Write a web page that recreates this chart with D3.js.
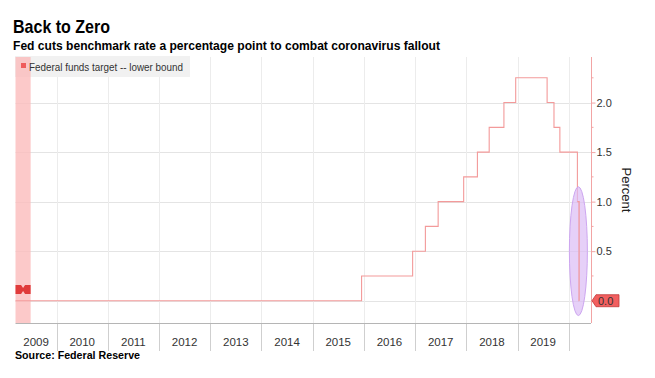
<!DOCTYPE html>
<html><head><meta charset="utf-8">
<script src="https://cdn.jsdelivr.net/npm/d3@7"></script>
<style>body{margin:0;background:#fff}svg{display:block}</style>
</head><body>
<svg id="c" width="655" height="378"></svg>
<script>
// Fed funds target lower bound: step dates and values
const stepDates = ["2009-03-14","2015-12-16","2016-12-14","2017-03-15","2017-06-14","2017-12-13","2018-03-21","2018-06-13","2018-09-26","2018-12-19","2019-07-31","2019-09-18","2019-10-30","2020-03-03","2020-03-15","2020-03-16"];
const stepValues = [0, 0.25, 0.5, 0.75, 1.0, 1.25, 1.5, 1.75, 2.0, 2.25, 2.0, 1.75, 1.5, 1.0, 0.0, 0.0];
const yearLabels = ["2009","2010","2011","2012","2013","2014","2015","2016","2017","2018","2019"];
const yTicks = [0, 0.5, 1.0, 1.5, 2.0];
const recession = ["2009-03-14","2009-06-30"];
const lastValue = 0.0;

const parse = d3.timeParse("%Y-%m-%d");
const svg = d3.select("#c");
const font = "'Liberation Sans', Arial, sans-serif";

const L = 15.5, R = 591, T = 57, B = 323;
const x = d3.scaleTime().domain([parse("2009-03-14"), parse("2020-06-08")]).range([L, R]);
const y = d3.scaleLinear().domain([-0.225, 2.46]).range([B, T]);

// title
svg.append("text").attr("x",13).attr("y",33).text("Back to Zero")
  .attr("font-family",font).attr("font-weight","bold").attr("font-size",19)
  .attr("textLength",97).attr("lengthAdjust","spacingAndGlyphs").attr("fill","#000");
svg.append("text").attr("x",13).attr("y",50).text("Fed cuts benchmark rate a percentage point to combat coronavirus fallout")
  .attr("font-family",font).attr("font-weight","bold").attr("font-size",13.5)
  .attr("textLength",427).attr("lengthAdjust","spacingAndGlyphs").attr("fill","#000");

// horizontal grid
svg.append("g").selectAll("line").data(yTicks).join("line")
  .attr("x1",L).attr("x2",R).attr("y1",d=>Math.round(y(d))+0.5).attr("y2",d=>Math.round(y(d))+0.5)
  .attr("stroke","#e4e4e4").attr("stroke-width",1);

// vertical year grid + separators
const yearStarts = d3.range(2010, 2021).map(yy => new Date(yy,0,1));
svg.append("g").selectAll("line").data(yearStarts).join("line")
  .attr("x1",d=>Math.round(x(d))+0.5).attr("x2",d=>Math.round(x(d))+0.5)
  .attr("y1",T).attr("y2",B)
  .attr("stroke","#ececec");
svg.append("g").selectAll("line").data(yearStarts).join("line")
  .attr("x1",d=>Math.round(x(d))+0.5).attr("x2",d=>Math.round(x(d))+0.5)
  .attr("y1",B).attr("y2",351)
  .attr("stroke","#cfcfcf");

// legend box
svg.append("rect").attr("x",15).attr("y",56).attr("width",175).attr("height",21).attr("fill","#f1f1f1");

// recession band
svg.append("rect").attr("x",x(parse(recession[0]))).attr("y",T)
  .attr("width",x(parse(recession[1]))-x(parse(recession[0]))).attr("height",B-T)
  .attr("fill","#fbbcbc").attr("opacity",0.8);

// legend content
svg.append("rect").attr("x",21).attr("y",63).attr("width",5).attr("height",5).attr("fill","#ef5b5b");
svg.append("text").attr("x",29).attr("y",70.5).text("Federal funds target -- lower bound")
  .attr("font-family",font).attr("font-size",10).attr("fill","#333")
  .attr("textLength",154).attr("lengthAdjust","spacingAndGlyphs");

// step line
const data = stepDates.map((d,i)=>({date:parse(d), v:stepValues[i]}));
const line = d3.line().x(d=>x(d.date)).y(d=>y(d.v)).curve(d3.curveStepAfter);
svg.append("path").datum(data).attr("d",line).attr("fill","none")
  .attr("stroke","#f39a9a").attr("stroke-width",1.1);

// recession marker (bowtie) on the left
const mx0 = x(parse(recession[0])), mx1 = x(parse(recession[1])), mxc = (mx0+mx1)/2;
svg.append("path")
  .attr("d",`M${mx0},285 L${mxc-2},285 L${mxc},288 L${mxc+2},285 L${mx1},285 L${mx1},294 L${mxc+2},294 L${mxc},291 L${mxc-2},294 L${mx0},294 Z`)
  .attr("fill","#e03a3a");

// bottom axis line
svg.append("line").attr("x1",L).attr("x2",R).attr("y1",B+0.5).attr("y2",B+0.5).attr("stroke","#b5b5b5");

// year labels centered in visible portion of each year
const xd = x.domain();
svg.append("g").selectAll("text").data(yearLabels).join("text")
  .attr("x",d=>{const a=new Date(+d,0,1), b=new Date(+d+1,0,1);
     const s=Math.max(x(a),x(xd[0])), e=Math.min(x(b),x(xd[1])); return (s+e)/2;})
  .attr("y",346).attr("text-anchor","middle").text(d=>d)
  .attr("font-family",font).attr("font-size",11.5).attr("fill","#333");

// ellipse annotation
svg.append("ellipse").attr("cx",x(parse("2020-03-10"))).attr("cy",y(0.5))
  .attr("rx",9).attr("ry",(y(-0.15)-y(1.15))/2)
  .attr("fill","#dcbcf5").attr("fill-opacity",0.7).attr("stroke","#cda6f0").attr("stroke-width",1);
// redraw last segment of line above ellipse
svg.append("path").datum(data.slice(-3)).attr("d",line).attr("fill","none")
  .attr("stroke","#f39a9a").attr("stroke-width",1.1);

// right axis
const yAxis = d3.axisRight(y).tickValues(yTicks).tickSize(4).tickFormat(d3.format(".1f"));
const ga = svg.append("g").attr("transform",`translate(${R+0.5},0)`).call(yAxis);
ga.select(".domain").attr("stroke","#f2a4a4").attr("d",`M0,${T}V${B}`);
ga.selectAll(".tick line").attr("stroke","#f2a4a4");
ga.selectAll(".tick text").attr("font-family",font).attr("font-size",11).attr("fill","#333").attr("x",5);
ga.selectAll(".tick").filter(d=>d===0).select("text").remove();
// minor ticks
svg.append("g").selectAll("line").data(d3.range(-0.25,2.5,0.25).filter(v=>v>y.domain()[0]&&v<y.domain()[1]&&Math.abs(v*2-Math.round(v*2))>0.01))
  .join("line").attr("x1",R+0.5).attr("x2",R+2.5).attr("y1",d=>y(d)).attr("y2",d=>y(d)).attr("stroke","#f2a4a4");

// last value label
const ly = y(lastValue);
svg.append("path").attr("d",`M${R+1},${ly} L${R+5},${ly-6} L${R+28},${ly-6} L${R+28},${ly+6} L${R+5},${ly+6} Z`)
  .attr("fill","#f25f5f").attr("stroke","#c23a3a").attr("stroke-width",0.8);
svg.append("text").attr("x",R+7).attr("y",ly+4).text(d3.format(".1f")(lastValue))
  .attr("font-family",font).attr("font-size",11).attr("fill","#333");

// Percent label
svg.append("text").attr("transform","translate(622,190) rotate(90)").attr("text-anchor","middle")
  .text("Percent").attr("font-family",font).attr("font-size",13).attr("fill","#222");

// source
svg.append("text").attr("x",15).attr("y",359).text("Source: Federal Reserve")
  .attr("font-family",font).attr("font-weight","bold").attr("font-size",10.5).attr("fill","#000")
  .attr("textLength",125).attr("lengthAdjust","spacingAndGlyphs");
</script>
</body></html>
